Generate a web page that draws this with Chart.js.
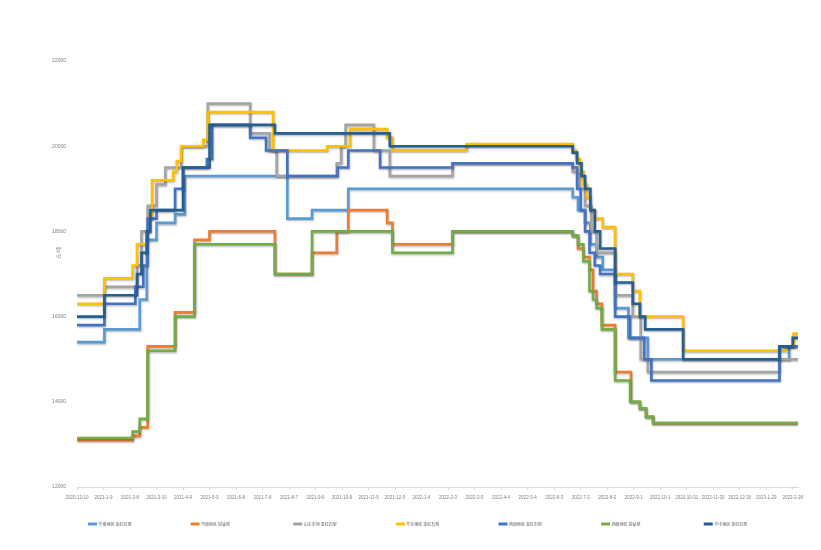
<!DOCTYPE html>
<html>
<head>
<meta charset="utf-8">
<script src="https://cdn.jsdelivr.net/npm/chart.js@4.4.1/dist/chart.umd.min.js"></script>
<style>
  html, body { margin: 0; padding: 0; background: #ffffff; }
  #wrap { width: 821px; height: 550px; }
  canvas { display: block; }
</style>
</head>
<body>
<div id="wrap"><canvas id="chart" width="821" height="550"></canvas></div>
<script>
// Daily price series, stored as change points: [days since 2020-12-10, 元/吨]
const END_DAY = 816;

const tickLabels = [
  '2020-12-10', '2021-1-9', '2021-2-8', '2021-3-10', '2021-4-9', '2021-5-9', '2021-6-8',
  '2021-7-8', '2021-8-7', '2021-9-6', '2021-10-6', '2021-11-5', '2021-12-5', '2022-1-4',
  '2022-2-3', '2022-3-5', '2022-4-4', '2022-5-4', '2022-6-3', '2022-7-3', '2022-8-2',
  '2022-9-1', '2022-10-1', '2022-10-31', '2022-11-30', '2022-12-30', '2023-1-29', '2023-2-28'
];

const seriesNames = [
  '华南地区 金红石型', '华南地区 锐钛型', '山东市场 金红石型', '华东地区 金红石型',
  '西南地区 金红石型', '西南地区 锐钛型', '华中地区 金红石型'
];

const yAxisTitle = '元/吨';

const southRutile = [[0,15400],[31,15700],[71,16400],[79,17800],[90,18200],[111,18400],[122,19300],[238,18300],[266,18500],[307,19000],[561,18800],[567,18500],[575,18200],[581,17700],[588,17400],[595,17100],[609,16200],[624,15500],[646,15000],[806,15300],[816,15300]];
const southAnatase = [[0,13100],[63,13200],[71,13400],[80,15300],[111,16100],[133,17800],[150,18000],[224,17000],[266,17500],[294,18000],[307,18500],[351,18200],[357,17700],[425,18000],[561,17900],[567,17600],[573,17400],[580,17100],[584,16600],[588,16300],[594,15800],[609,14700],[627,14000],[637,13850],[644,13650],[652,13500],[816,13500]];
const shandongRutile = [[0,16500],[31,16700],[68,17200],[73,18000],[80,18600],[90,19100],[100,19500],[118,20000],[148,21000],[196,20300],[218,19900],[226,19300],[294,19600],[299,20000],[304,20500],[336,19900],[354,19300],[425,19600],[561,19400],[569,19000],[575,18600],[582,18000],[588,17500],[609,16500],[629,16000],[638,15000],[646,14700],[795,15000],[816,15000]];
const eastRutile = [[0,16300],[31,16900],[63,17200],[68,17700],[79,18000],[82,18300],[85,19200],[109,19400],[113,19650],[118,20000],[143,20150],[148,20800],[222,19900],[283,20000],[309,20400],[351,20200],[357,19900],[441,20050],[561,19900],[565,19700],[569,19400],[573,19100],[577,18800],[581,18500],[586,18300],[595,18100],[609,17000],[629,16600],[637,16000],[686,15200],[803,15300],[811,15600],[816,15600]];
const southwestRutile = [[0,15800],[31,16300],[66,16700],[75,17200],[80,18300],[90,18500],[111,19000],[120,19500],[147,19700],[153,20500],[196,20200],[214,19900],[238,19300],[295,19500],[307,19900],[343,19500],[425,19600],[561,19500],[566,19000],[570,18500],[575,18000],[580,17500],[586,17200],[592,17000],[609,16000],[626,15500],[642,15000],[650,14500],[795,15300],[816,15300]];
const southwestAnatase = [[0,13150],[63,13300],[71,13600],[80,15200],[111,16000],[133,17700],[224,17000],[266,18000],[357,17500],[425,18000],[561,17900],[567,17700],[573,17300],[580,16600],[584,16400],[588,16200],[594,15700],[609,14500],[626,14000],[637,13850],[644,13650],[652,13500],[816,13500]];
const centralRutile = [[0,16000],[31,16500],[68,17000],[73,17500],[79,18000],[83,18500],[120,19500],[150,20500],[224,20300],[354,20000],[561,19850],[566,19600],[571,19300],[575,19000],[581,18500],[586,18000],[592,17600],[609,16800],[629,16300],[637,16000],[643,15700],[686,15000],[795,15300],[810,15500],[816,15500]];

const yTicks = { min: 12000, max: 22000, step: 2000 };

const seriesData = [southRutile, southAnatase, shandongRutile, eastRutile, southwestRutile, southwestAnatase, centralRutile];
const palette = ['#5B9BD5', '#ED7D31', '#A5A5A5', '#FFC000', '#4472C4', '#70AD47', '#255E91'];

const datasets = seriesData.map((pts, i) => ({
  label: seriesNames[i],
  data: pts.map(([d, v]) => ({ x: d, y: v })),
  borderColor: palette[i],
  backgroundColor: palette[i],
  borderWidth: 2.6,
  stepped: true,
  pointRadius: 0,
  fill: false,
  order: seriesData.length - i
}));

// soft drop shadow under each line
const lineShadow = {
  id: 'lineShadow',
  beforeDatasetDraw(chart) {
    const ctx = chart.ctx;
    ctx.save();
    ctx.shadowColor = 'rgba(0,0,0,0.3)';
    ctx.shadowBlur = 2;
    ctx.shadowOffsetX = 0.5;
    ctx.shadowOffsetY = 1.2;
  },
  afterDatasetDraw(chart) {
    chart.ctx.restore();
  }
};

// evenly spaced legend row under the axis, plus the rotated unit label
const bottomLegend = {
  id: 'bottomLegend',
  afterDraw(chart) {
    const ctx = chart.ctx;
    const gap = chart.width / 8;
    const x0 = 88;
    const y = 524;
    chart.data.datasets.forEach((ds, i) => {
      const x = x0 + i * gap;
      ctx.save();
      ctx.strokeStyle = ds.borderColor;
      ctx.lineWidth = 3;
      ctx.beginPath();
      ctx.moveTo(x, y);
      ctx.lineTo(x + 9, y);
      ctx.stroke();
      ctx.fillStyle = '#595959';
      ctx.font = '4px "Noto Sans CJK SC"';
      ctx.textBaseline = 'middle';
      ctx.textAlign = 'left';
      ctx.fillText(ds.label, x + 10.5, y);
      ctx.restore();
    });

    const area = chart.chartArea;
    ctx.save();
    ctx.translate(area.left - 19, area.top + (area.bottom - area.top) * 0.45);
    ctx.rotate(-Math.PI / 2);
    ctx.fillStyle = '#8c8c8c';
    ctx.font = '5px "Noto Sans CJK SC"';
    ctx.textAlign = 'center';
    ctx.textBaseline = 'middle';
    ctx.fillText(yAxisTitle, 0, 0);
    ctx.restore();
  }
};

new Chart(document.getElementById('chart'), {
  type: 'line',
  data: { datasets },
  plugins: [lineShadow, bottomLegend],
  options: {
    responsive: false,
    animation: false,
    layout: { padding: { left: 0, right: 23, top: 61, bottom: 43 } },
    plugins: {
      legend: { display: false },
      tooltip: { enabled: false }
    },
    scales: {
      x: {
        type: 'linear',
        min: 0,
        max: END_DAY,
        afterBuildTicks(scale) {
          scale.ticks = tickLabels.map((_, k) => ({ value: k * 30 }));
        },
        afterFit(scale) { scale.height = 20; },
        ticks: {
          autoSkip: false,
          maxRotation: 0,
          minRotation: 0,
          padding: 5,
          color: '#7f7f7f',
          font: { family: '"Liberation Sans Narrow", "Liberation Sans"', size: 4.5 },
          callback: (v) => tickLabels[Math.round(v / 30)] ?? ''
        },
        grid: { display: true, drawOnChartArea: false, drawTicks: true, tickLength: 3, color: '#d9d9d9' },
        border: { display: true, color: '#d9d9d9', width: 1 }
      },
      y: {
        min: yTicks.min,
        max: yTicks.max,
        afterFit(scale) { scale.width = 77; },
        ticks: {
          stepSize: yTicks.step,
          padding: 3,
          color: '#7f7f7f',
          font: { family: '"Liberation Sans Narrow", "Liberation Sans"', size: 5 },
          callback: (v) => String(v)
        },
        grid: { display: false },
        border: { display: false }
      }
    }
  }
});
</script>
</body>
</html>
